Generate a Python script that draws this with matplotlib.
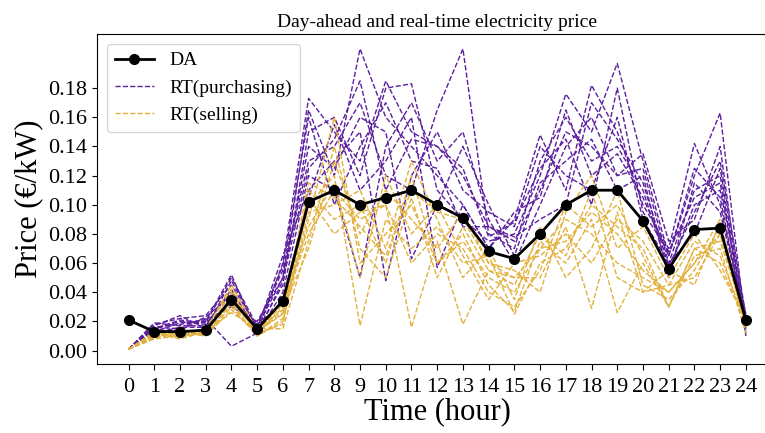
import numpy as np
import matplotlib
matplotlib.use("Agg")
import matplotlib.pyplot as plt

plt.rcParams["font.family"] = ["Liberation Serif", "DejaVu Serif"]
plt.rcParams["mathtext.fontset"] = "stix"

hours = list(range(25))

da_price = [0.021, 0.013, 0.013, 0.014, 0.035, 0.015, 0.034, 0.102, 0.110, 0.100, 0.105, 0.110, 0.100,
            0.091, 0.068, 0.063, 0.080, 0.100, 0.110, 0.110, 0.089, 0.056, 0.083, 0.084, 0.021]

# real-time purchasing price scenarios
rt_buy_1 = [0.001, 0.016, 0.018, 0.020, 0.052, 0.012, 0.060, 0.173, 0.150, 0.130, 0.185, 0.150, 0.140,
            0.120, 0.085, 0.075, 0.110, 0.150, 0.140, 0.120, 0.125, 0.060, 0.110, 0.120, 0.012]
rt_buy_2 = [0.001, 0.018, 0.022, 0.024, 0.045, 0.016, 0.050, 0.165, 0.120, 0.207, 0.160, 0.140, 0.120,
            0.100, 0.070, 0.090, 0.148, 0.110, 0.182, 0.150, 0.100, 0.070, 0.142, 0.100, 0.020]
rt_buy_3 = [0.001, 0.015, 0.020, 0.018, 0.040, 0.014, 0.045, 0.150, 0.160, 0.120, 0.180, 0.183, 0.110,
            0.090, 0.075, 0.080, 0.120, 0.176, 0.150, 0.197, 0.130, 0.065, 0.120, 0.163, 0.015]
rt_buy_4 = [0.001, 0.012, 0.016, 0.016, 0.036, 0.018, 0.055, 0.130, 0.140, 0.170, 0.120, 0.110, 0.165,
            0.207, 0.080, 0.070, 0.130, 0.160, 0.130, 0.140, 0.110, 0.055, 0.100, 0.110, 0.025]
rt_buy_5 = [0.001, 0.014, 0.014, 0.022, 0.003, 0.012, 0.040, 0.120, 0.110, 0.050, 0.140, 0.170, 0.130,
            0.150, 0.090, 0.060, 0.100, 0.140, 0.160, 0.120, 0.135, 0.075, 0.090, 0.140, 0.010]
rt_buy_6 = [0.001, 0.017, 0.024, 0.015, 0.048, 0.015, 0.065, 0.110, 0.130, 0.150, 0.048, 0.120, 0.150,
            0.110, 0.095, 0.085, 0.140, 0.120, 0.110, 0.160, 0.090, 0.060, 0.080, 0.125, 0.018]
rt_buy_7 = [0.001, 0.013, 0.019, 0.021, 0.030, 0.020, 0.050, 0.140, 0.125, 0.160, 0.150, 0.063, 0.100,
            0.140, 0.100, 0.065, 0.115, 0.130, 0.145, 0.110, 0.120, 0.050, 0.115, 0.095, 0.022]
rt_buy_8 = [0.001, 0.019, 0.017, 0.017, 0.042, 0.013, 0.035, 0.105, 0.155, 0.110, 0.130, 0.160, 0.057,
            0.100, 0.070, 0.095, 0.105, 0.165, 0.120, 0.135, 0.105, 0.065, 0.125, 0.105, 0.016]
rt_buy_9 = [0.001, 0.015, 0.021, 0.019, 0.050, 0.017, 0.058, 0.160, 0.100, 0.140, 0.170, 0.130, 0.125,
            0.085, 0.085, 0.078, 0.090, 0.100, 0.170, 0.145, 0.115, 0.058, 0.095, 0.130, 0.024]
rt_buy_10 = [0.001, 0.016, 0.015, 0.023, 0.038, 0.011, 0.048, 0.125, 0.145, 0.185, 0.110, 0.145, 0.140,
             0.125, 0.078, 0.088, 0.125, 0.145, 0.100, 0.180, 0.095, 0.068, 0.105, 0.115, 0.019]

# real-time selling price scenarios
rt_sell_1 = [0.001, 0.010, 0.012, 0.011, 0.030, 0.010, 0.020, 0.090, 0.160, 0.060, 0.080, 0.100, 0.060,
             0.075, 0.050, 0.040, 0.070, 0.090, 0.080, 0.060, 0.050, 0.040, 0.060, 0.090, 0.015]
rt_sell_2 = [0.001, 0.012, 0.008, 0.013, 0.035, 0.013, 0.025, 0.100, 0.120, 0.017, 0.090, 0.070, 0.085,
             0.060, 0.065, 0.025, 0.060, 0.070, 0.100, 0.085, 0.070, 0.030, 0.070, 0.060, 0.018]
rt_sell_3 = [0.001, 0.008, 0.010, 0.012, 0.040, 0.011, 0.030, 0.080, 0.110, 0.090, 0.100, 0.016, 0.075,
             0.018, 0.055, 0.050, 0.050, 0.085, 0.029, 0.095, 0.040, 0.045, 0.050, 0.080, 0.020]
rt_sell_4 = [0.001, 0.011, 0.013, 0.010, 0.028, 0.012, 0.018, 0.110, 0.090, 0.100, 0.060, 0.120, 0.060,
             0.080, 0.045, 0.027, 0.075, 0.060, 0.090, 0.026, 0.060, 0.030, 0.065, 0.070, 0.012]
rt_sell_5 = [0.001, 0.009, 0.011, 0.014, 0.045, 0.014, 0.028, 0.070, 0.130, 0.080, 0.110, 0.090, 0.070,
             0.095, 0.060, 0.055, 0.040, 0.095, 0.120, 0.070, 0.085, 0.050, 0.080, 0.055, 0.022]
rt_sell_6 = [0.001, 0.013, 0.009, 0.012, 0.032, 0.010, 0.022, 0.095, 0.100, 0.110, 0.070, 0.130, 0.090,
             0.050, 0.070, 0.035, 0.085, 0.050, 0.070, 0.110, 0.045, 0.035, 0.055, 0.085, 0.016]
rt_sell_7 = [0.001, 0.010, 0.014, 0.011, 0.038, 0.012, 0.032, 0.085, 0.115, 0.050, 0.120, 0.080, 0.100,
             0.065, 0.035, 0.060, 0.065, 0.080, 0.060, 0.090, 0.075, 0.045, 0.075, 0.065, 0.019]
rt_sell_8 = [0.001, 0.011, 0.010, 0.013, 0.026, 0.015, 0.015, 0.075, 0.140, 0.070, 0.050, 0.105, 0.050,
             0.085, 0.055, 0.045, 0.080, 0.065, 0.110, 0.050, 0.040, 0.055, 0.045, 0.088, 0.014]
rt_sell_9 = [0.001, 0.012, 0.012, 0.015, 0.042, 0.011, 0.035, 0.105, 0.080, 0.095, 0.100, 0.060, 0.080,
             0.070, 0.040, 0.030, 0.055, 0.100, 0.085, 0.100, 0.065, 0.030, 0.070, 0.075, 0.021]
rt_sell_10 = [0.001, 0.009, 0.013, 0.010, 0.033, 0.013, 0.026, 0.115, 0.105, 0.085, 0.065, 0.110, 0.095,
              0.090, 0.060, 0.050, 0.070, 0.075, 0.095, 0.080, 0.055, 0.040, 0.060, 0.080, 0.017]

rt_buy = [rt_buy_1, rt_buy_2, rt_buy_3, rt_buy_4, rt_buy_5,
          rt_buy_6, rt_buy_7, rt_buy_8, rt_buy_9, rt_buy_10]
rt_sell = [rt_sell_1, rt_sell_2, rt_sell_3, rt_sell_4, rt_sell_5,
           rt_sell_6, rt_sell_7, rt_sell_8, rt_sell_9, rt_sell_10]

y_ticks = [0.00, 0.02, 0.04, 0.06, 0.08, 0.10, 0.12, 0.14, 0.16, 0.18]

purple = "#5b1f9e"
gold = "#e2b13c"

fig = plt.figure(figsize=(7.65, 4.33), dpi=100)
# right spine sits just past the image edge, as in the reference
ax = fig.add_axes([0.127, 0.160, 0.889, 0.761])

for i, s in enumerate(rt_buy):
    ax.plot(hours, s, "--", color=purple, lw=1.0, label="RT(purchasing)" if i == 0 else None, zorder=2)
for i, s in enumerate(rt_sell):
    ax.plot(hours, s, "--", color=gold, lw=1.0, label="RT(selling)" if i == 0 else None, zorder=3)
ax.plot(hours, da_price, "-o", color="black", lw=2, ms=7, label="DA", zorder=4)

ax.set_xlim(-1.22, 25.22)
ax.set_ylim(-0.009, 0.217)
ax.set_xticks(hours)
ax.set_yticks(y_ticks)
ax.set_yticklabels([f"{v:.2f}" for v in y_ticks])
ax.tick_params(labelsize=16)
ax.tick_params(axis="x", length=4.5, pad=6)

ax.set_xlabel("Time (hour)", fontsize=22, labelpad=0)
ax.set_ylabel("Price (€/kW)", fontsize=22)
ax.set_title("Day-ahead and real-time electricity price", fontsize=14, pad=5)

handles, labels = ax.get_legend_handles_labels()
order = [2, 0, 1]
ax.legend([handles[i] for i in order], [labels[i] for i in order], loc="upper left", fontsize=14)

fig.savefig("out.png", dpi=100)
